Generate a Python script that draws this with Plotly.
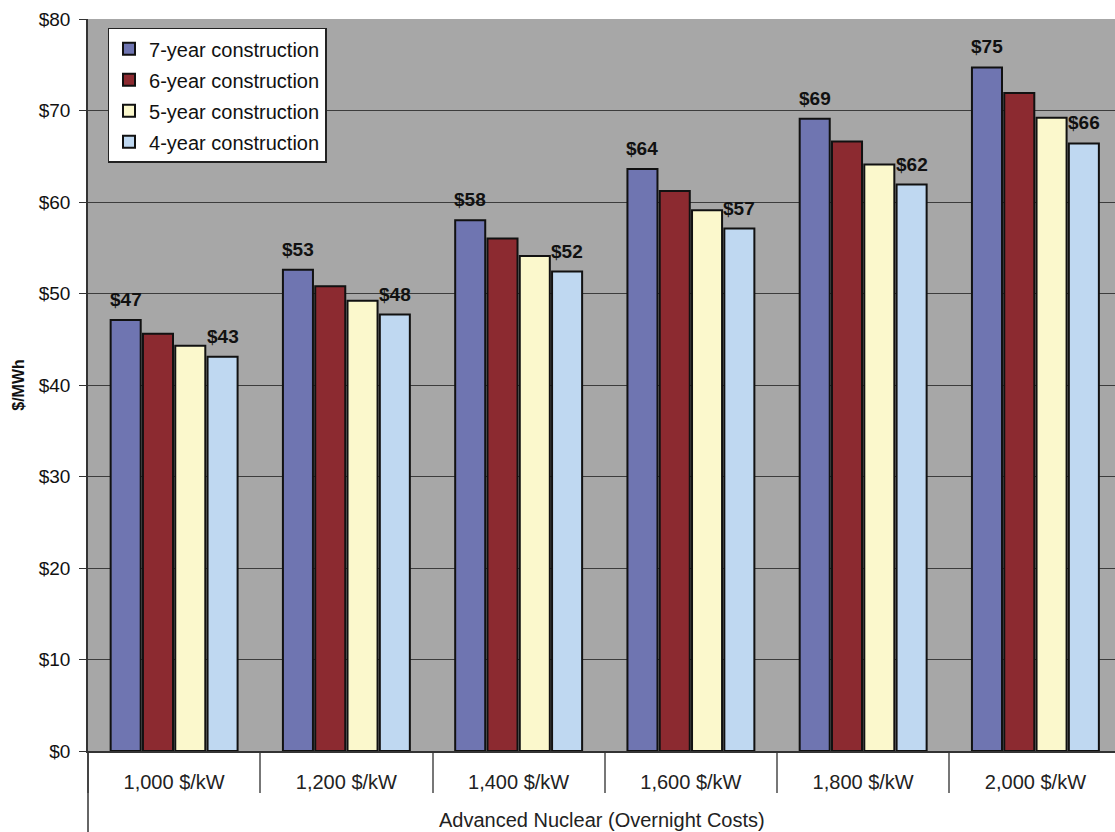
import plotly.graph_objects as go

# Levelized cost of electricity by overnight capital cost and build time
categories = ["1,000 $/kW", "1,200 $/kW", "1,400 $/kW", "1,600 $/kW", "1,800 $/kW", "2,000 $/kW"]
series_names = ["7-year construction", "6-year construction", "5-year construction", "4-year construction"]
seven_year = [47.1, 52.6, 58.0, 63.6, 69.1, 74.7]
six_year = [45.6, 50.8, 56.0, 61.2, 66.6, 71.9]
five_year = [44.3, 49.2, 54.1, 59.1, 64.1, 69.2]
four_year = [43.1, 47.7, 52.4, 57.1, 61.9, 66.4]
y_ticks = [0, 10, 20, 30, 40, 50, 60, 70, 80]
y_tick_text = ["$0", "$10", "$20", "$30", "$40", "$50", "$60", "$70", "$80"]
x_title = "Advanced Nuclear (Overnight Costs)"
y_title = "$/MWh"

series_values = [seven_year, six_year, five_year, four_year]
colors = ["#6f75b1", "#8c2a30", "#fbf8cc", "#bfd8f1"]
labelled = [0, 3]  # series that carry value labels

FONT = "Arial, Liberation Sans, sans-serif"
BARGAP = 0.25
PLOT_H = 732
BOTTOM = 81

fig = go.Figure()
for k, (name, vals, col) in enumerate(zip(series_names, series_values, colors)):
    fig.add_trace(go.Bar(
        x=categories, y=vals, name=name, legendgroup=name,
        marker=dict(color=col, line=dict(color="#111111", width=2)),
    ))

# value labels above the outer bars of each group
n = len(series_names)
slot = (1 - BARGAP) / n
for k in labelled:
    offset = -(1 - BARGAP) / 2 + (k + 0.5) * slot
    for i, v in enumerate(series_values[k]):
        fig.add_annotation(
            x=i + offset, y=v, xref="x", yref="y",
            text=f"<b>${round(v)}</b>", showarrow=False,
            yanchor="bottom", yshift=8,
            font=dict(family=FONT, size=19, color="#111111"),
        )

# category-band title
fig.add_annotation(
    x=0.5, y=-69 / PLOT_H, xref="paper", yref="paper",
    text=x_title, showarrow=False, yanchor="middle",
    font=dict(family=FONT, size=20, color="#222222"),
)

# left axis line continues down through the category band
fig.add_shape(type="line", xref="paper", yref="paper",
              x0=0, x1=0, y0=0, y1=-BOTTOM / PLOT_H,
              line=dict(color="#333333", width=1.5))

fig.update_layout(
    width=1115, height=832,
    margin=dict(l=88, r=0, t=19, b=BOTTOM),
    paper_bgcolor="white",
    plot_bgcolor="#a7a7a7",
    barmode="group", bargap=BARGAP, bargroupgap=0.07,
    font=dict(family=FONT, size=18, color="#111111"),
    showlegend=True,
    legend=dict(
        x=0.019, y=0.988, xanchor="left", yanchor="top",
        bgcolor="white", bordercolor="#222222", borderwidth=1.5,
        font=dict(family=FONT, size=20, color="#111111"),
        tracegroupgap=2, itemwidth=30,
    ),
    xaxis=dict(
        range=[-0.5, 5.462],
        tickson="boundaries", ticks="outside", ticklen=40,
        tickcolor="#777777", tickwidth=1.5,
        ticklabelstandoff=12,
        tickfont=dict(family=FONT, size=20, color="#222222"),
        showline=True, linecolor="#333333", linewidth=1.5,
        showgrid=False, zeroline=False,
    ),
    yaxis=dict(
        range=[0, 80], tickvals=y_ticks, ticktext=y_tick_text,
        ticks="outside", ticklen=7, tickcolor="#333333",
        ticklabelstandoff=5,
        tickfont=dict(family=FONT, size=19, color="#111111"),
        showline=True, linecolor="#333333", linewidth=1.5,
        showgrid=True, gridcolor="#3c3c3c", gridwidth=1,
        zeroline=False,
        title=dict(text=f"<b>{y_title}</b>", standoff=10,
                   font=dict(family=FONT, size=16, color="#111111")),
    ),
)

fig.write_html("out.html")
